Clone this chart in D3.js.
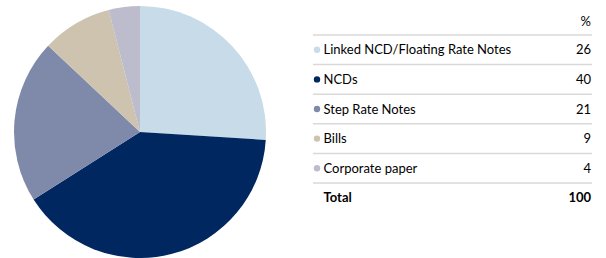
<!DOCTYPE html>
<html><head><meta charset="utf-8">
<script src="https://cdn.jsdelivr.net/npm/d3@7"></script>
<style>body{margin:0;background:#fff}svg{display:block}</style>
</head><body>
<script>
const categories = ["Linked NCD/Floating Rate Notes","NCDs","Step Rate Notes","Bills","Corporate paper"];
const values = [26,40,21,9,4];
const colors = ["#c7dbe8","#00275f","#7f8aab","#cdc3ae","#bcbccd"];
const total = 100;

const W=606,H=258;
const svg=d3.select("body").append("svg").attr("width",W).attr("height",H);
const data = categories.map((c,i)=>({c,v:values[i],col:colors[i]}));
const pie=d3.pie().value(d=>d.v).sort(null);
const arc=d3.arc().innerRadius(0).outerRadius(126);
svg.append("g").attr("transform","translate(140,132)")
  .selectAll("path").data(pie(data)).join("path")
  .attr("d",arc).attr("fill",d=>d.data.col);

const font="Lato, 'Open Sans', sans-serif";
const x0=313,x1=592;
const y=d3.scaleLinear().domain([0,1]).range([35,64.6]);
const g=svg.append("g").attr("font-family",font).attr("font-size",13).attr("fill","#000");
g.append("text").attr("x",591).attr("y",26).attr("text-anchor","end").text("%");
for(let i=0;i<=categories.length;i++){
  g.append("line").attr("x1",x0).attr("x2",x1).attr("y1",y(i)).attr("y2",y(i))
   .attr("stroke","#d9d9d9").attr("stroke-width",1.5);
}
data.forEach((d,i)=>{
  const cy=(y(i)+y(i+1))/2;
  g.append("circle").attr("cx",317).attr("cy",cy).attr("r",3.2).attr("fill",d.col);
  g.append("text").attr("x",323.5).attr("y",cy).attr("dy","0.35em").text(d.c);
  g.append("text").attr("x",591).attr("y",cy).attr("dy","0.35em").attr("text-anchor","end").text(d.v);
});
const ty=(y(5)+y(6))/2;
g.append("text").attr("x",323.5).attr("y",ty).attr("dy","0.35em").attr("font-weight","bold").text("Total");
g.append("text").attr("x",591).attr("y",ty).attr("dy","0.35em").attr("font-weight","bold").attr("text-anchor","end").text(total);
</script>
</body></html>
